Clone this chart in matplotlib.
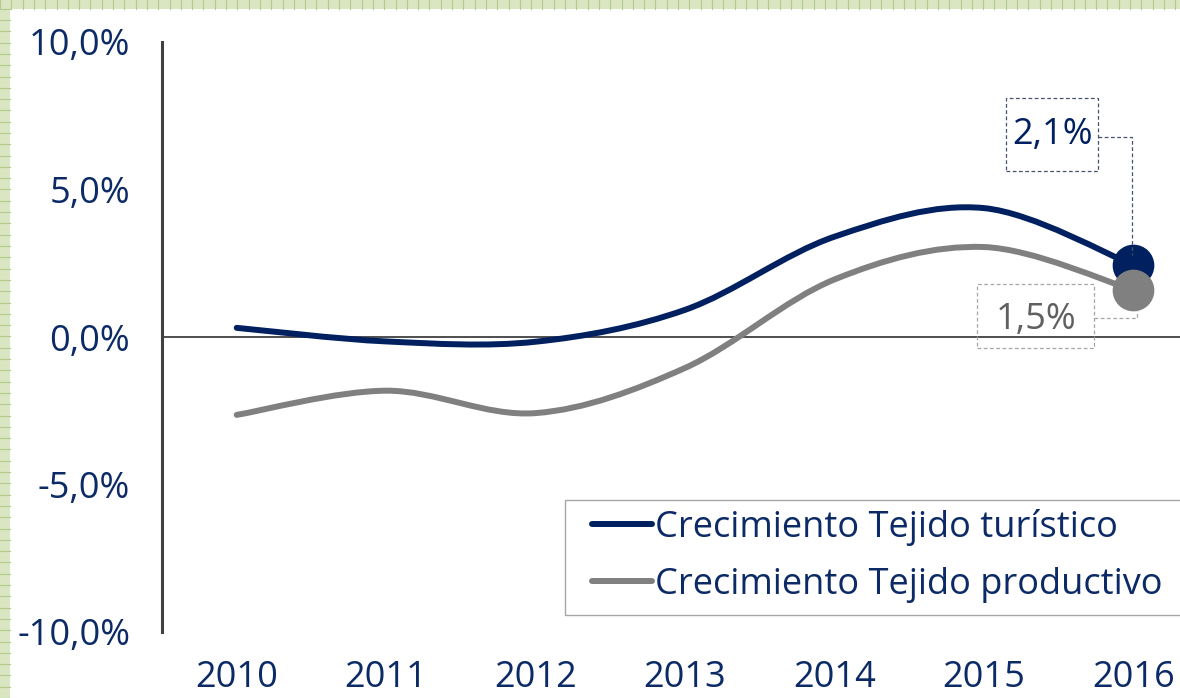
import numpy as np
import matplotlib.pyplot as plt
from matplotlib.path import Path
from matplotlib.patches import PathPatch, Rectangle
from matplotlib.lines import Line2D
from matplotlib.transforms import ScaledTranslation

plt.rcParams['font.family'] = ['Open Sans', 'DejaVu Sans']

years = [2010, 2011, 2012, 2013, 2014, 2015, 2016]
turistico = [0.31, -0.15, -0.16, 0.92, 3.40, 4.37, 2.44]
productivo = [-2.64, -1.82, -2.58, -1.05, 1.95, 3.05, 1.59]
series_names = ['Crecimiento Tejido turístico', 'Crecimiento Tejido productivo']
last_labels = ['2,1%', '1,5%']
yticks = [-10, -5, 0, 5, 10]

NAVY = '#002060'
GREY = '#808080'
TXT = '#0b2a66'


def smooth_path(x, y):
    # Excel style smoothed line: cubic bezier, control points from neighbours
    x = np.asarray(x, float)
    y = np.asarray(y, float)
    pts = np.column_stack([x, y])
    verts = [pts[0]]
    codes = [Path.MOVETO]
    n = len(pts)
    for i in range(n - 1):
        p0 = pts[max(i - 1, 0)]
        p1 = pts[i]
        p2 = pts[i + 1]
        p3 = pts[min(i + 2, n - 1)]
        c1 = p1 + (p2 - p0) / 6
        c2 = p2 - (p3 - p1) / 6
        verts += [c1, c2, p2]
        codes += [Path.CURVE4] * 3
    return Path(verts, codes)


W, H = 1180, 698
fig = plt.figure(figsize=(W / 100, H / 100), dpi=100)
fig.patch.set_facecolor('#d9e6c1')

# white canvas with the green paper border on top and left
fig.add_artist(Rectangle((10 / W, 0), 1, 1 - 9 / H, transform=fig.transFigure,
                         facecolor='white', edgecolor='none', zorder=0))
for px in np.arange(0, W, 11.3):
    fig.add_artist(Line2D([px / W, px / W], [1 - 9 / H, 1], transform=fig.transFigure,
                          color='#b4cb8c', lw=0.8, zorder=0.5))
for py in np.arange(0, H, 11.3):
    fig.add_artist(Line2D([0, 10 / W], [py / H, py / H], transform=fig.transFigure,
                          color='#b4cb8c', lw=0.8, zorder=0.5))

ax = fig.add_axes([162 / W, 66 / H, 1046 / W, 590 / H])
ax.set_facecolor('none')
ax.set_xlim(2009.5, 2016.5)
ax.set_ylim(-10, 10)

for s in ['top', 'right', 'bottom']:
    ax.spines[s].set_visible(False)
ax.spines['left'].set_color('#404040')
ax.spines['left'].set_linewidth(2.2)
ax.axhline(0, color='#404040', lw=1.3, zorder=1)

ax.add_patch(PathPatch(smooth_path(years, productivo), fill=False,
                       edgecolor=GREY, lw=4.3, capstyle='round', zorder=3))
ax.add_patch(PathPatch(smooth_path(years, turistico), fill=False,
                       edgecolor=NAVY, lw=4.3, capstyle='round', zorder=4))

ax.plot(years[-1], turistico[-1], 'o', ms=29, color=NAVY, zorder=5)
ax.plot(years[-1], productivo[-1], 'o', ms=29, color=GREY, zorder=6)


def data_label(xv, yv, text, tcolor, ecolor, box, txt, leader, z):
    # box / text / leader given in inches relative to the data point
    tr = fig.dpi_scale_trans + ScaledTranslation(xv, yv, ax.transData)
    ax.add_patch(Rectangle(box[:2], box[2], box[3], transform=tr, fill=False,
                           ec=ecolor, lw=0.9, ls=(0, (3, 2)), zorder=z))
    ax.add_line(Line2D(leader[0], leader[1], transform=tr, color=ecolor,
                       lw=0.9, ls=(0, (3, 2)), zorder=z))
    ax.text(txt[0], txt[1], text, transform=tr, ha='center', va='center',
            fontsize=26, color=tcolor, zorder=z)


data_label(years[-1], turistico[-1], last_labels[0], NAVY, '#44546a',
           (-1.27, 0.94, 0.92, 0.73), (-0.81, 1.30),
           ([-0.35, -0.01, -0.01], [1.28, 1.28, 0.10]), 7)
data_label(years[-1], productivo[-1], last_labels[1], '#606060', '#a6a6a6',
           (-1.56, -0.58, 1.17, 0.64), (-0.97, -0.30),
           ([-0.39, 0.04, 0.04], [-0.28, -0.28, -0.20]), 7)

ax.set_xticks(years)
ax.set_xticklabels([str(y) for y in years])
ax.set_yticks(yticks)
ax.set_yticklabels([f'{v:.1f}%'.replace('.', ',') for v in yticks])
ax.tick_params(axis='both', length=0, labelsize=26, labelcolor=TXT)
ax.tick_params(axis='y', pad=23)
ax.tick_params(axis='x', pad=20)

# legend frame, then legend entries without their own frame
fig.add_artist(Rectangle((565 / W, 1 - 615 / H), 640 / W, 115 / H,
                         transform=fig.transFigure, fill=False,
                         ec='#a6a6a6', lw=1.0, zorder=8))
handles = [Line2D([], [], color=NAVY, lw=4.3, solid_capstyle='round'),
           Line2D([], [], color=GREY, lw=4.3, solid_capstyle='round')]
leg = fig.legend(handles, series_names, loc='upper left',
                 bbox_to_anchor=(592 / W, 1 - 509 / H),
                 fontsize=26, frameon=False, handlelength=1.66,
                 handletextpad=0.08, borderpad=0, labelspacing=0.58,
                 labelcolor=TXT, borderaxespad=0)

fig.savefig('out.png', dpi=100, facecolor=fig.get_facecolor())
